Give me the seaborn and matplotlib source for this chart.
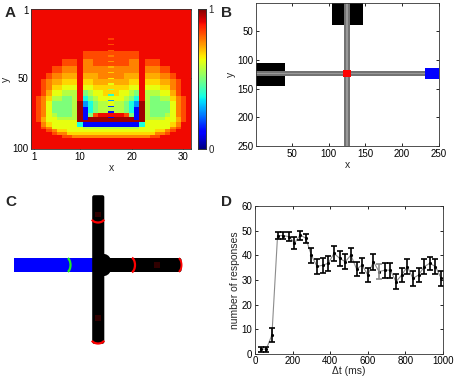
import numpy as np
import seaborn as sns
import matplotlib.pyplot as plt
from matplotlib.patches import Rectangle, Arc, Ellipse, FancyBboxPatch

# ---- panel A: heatmap, left half (columns 1-16) read band by band, mirrored ----
LEVELS = {'R': 0.90, 'D': 0.97, 'r': 0.83, 'o': 0.77, 'O': 0.73, 'y': 0.68,
          'Y': 0.63, 'l': 0.57, 'g': 0.50, 'c': 0.38, 'b': 0.27, 'B': 0.13}
BAND_ROWS = [24, 6, 6, 5, 5, 4, 4, 4, 4, 4, 4, 4, 3, 2, 2, 3, 2, 2, 2, 2, 8]
BAND_COLORS = [
    "RRRRRRRRRRRRRRRR",
    "RRRRRRRRRRRRRRRR",
    "RRRRRRRRRRrrrrrr",
    "RRRRRRrrrRoorrrr",
    "RRRRrroooRoooooo",
    "RRRrooOOOROOOooo",
    "RRroOOyyyRyyOOOO",
    "RRroyyYYYRYYyyyy",
    "RRrOYYlllRglYYyy",
    "RroyllgglRcglYYY",
    "RroYgggglDbcgllY",
    "RroYgggglDBcglll",
    "RroYlggglDBgrRRR",
    "RrOYYllllDBDDDDD",
    "RrOYYYYYYDDDDDDD",
    "RRoyYYYYYcBBBBBB",
    "RRroYYYYYYllllll",
    "RRRroyyYYYYYYYYY",
    "RRRRrooyyyyyyyyy",
    "RRRRRRrroooooooo",
    "RRRRRRRRRRRRRRRR",
]
DASH_ROWS = [22, 26, 30, 34, 38, 42, 46, 50, 54, 58, 62, 66, 70, 74, 78]
DASH_VALUES = [0.84, 0.83, 0.81, 0.78, 0.75, 0.72, 0.69, 0.66, 0.63, 0.55,
               0.40, 0.28, 0.18, 0.14, 0.10]

# ---- panel B: map (x0, y0, width, height) ----
WALLS = [(105, 0.5, 41, 39), (0.5, 105, 40, 40)]
ROAD_V = (121, 0.5, 8, 250)
ROAD_H = (0.5, 119, 250, 9)
GOAL = (120, 118, 10, 11)
START = (231, 114, 20, 20)

# ---- panel D: responses vs delay ----
dt_ms = [30, 60, 90, 120, 150, 180, 210, 240, 270, 300, 330, 360, 390, 420, 450,
         480, 510, 540, 570, 600, 630, 660, 690, 720, 750, 780, 810, 840, 870,
         900, 930, 960, 990]
responses = [2, 2, 7.7, 48, 48, 47.6, 45, 48.2, 47, 40, 35.5, 36, 36.8, 40.8,
             38.8, 37.4, 40.1, 34.5, 36, 32, 37.4, 33.4, 34, 34, 29.3, 32, 35.4,
             30.7, 32, 35.4, 36.8, 35.4, 30.7]
resp_err = [1, 1, 2.7, 1.5, 1.5, 1.8, 2.5, 1.8, 1.8, 3, 3.2, 3, 3, 3, 3, 3, 3,
            3, 3, 3, 3.2, 3, 3, 3, 3, 3, 3, 3, 3, 3, 2.7, 3, 3]
gray_bars = [660]

sns.set_theme(style='white')
plt.rcParams['font.family'] = ['Liberation Sans', 'DejaVu Sans']

W, H = 454, 376
fig = plt.figure(figsize=(W / 100, H / 100), dpi=100)


def box(l, t, r, b):
    return [l / W, 1 - b / H, (r - l) / W, (b - t) / H]


def style_ax(ax):
    ax.tick_params(direction='in', length=2.5, width=0.6, labelsize=7, pad=2,
                   top=True, right=True, bottom=True, left=True, colors='black')
    for s in ax.spines.values():
        s.set_visible(True)
        s.set_color('0.2')
        s.set_linewidth(0.6)


# panel A
axA = fig.add_axes(box(31, 9, 191, 149))
caxA = fig.add_axes(box(198, 9, 206, 149))
half = np.array([[LEVELS[ch] for ch in row] for row in BAND_COLORS])
full = np.hstack([half, half[:, -2::-1]])
grid = np.repeat(full, BAND_ROWS, axis=0)
for r, v in zip(DASH_ROWS, DASH_VALUES):
    grid[r - 1, 15] = v
sns.heatmap(grid, ax=axA, cmap='jet', vmin=0, vmax=1, cbar_ax=caxA,
            xticklabels=False, yticklabels=False)
axA.set_xticks([0.5, 9.5, 19.5, 29.5])
axA.set_xticklabels(['1', '10', '20', '30'])
axA.set_yticks([0.5, 49.5, 99.5])
axA.set_yticklabels(['1', '50', '100'], rotation=0)
axA.set_xlabel('x', fontsize=7.5, labelpad=1)
axA.set_ylabel('y', fontsize=7.5, labelpad=1)
style_ax(axA)
caxA.set_yticks([0, 1])
caxA.tick_params(labelsize=7, length=0, pad=2)
for s in caxA.spines.values():
    s.set_visible(True)
    s.set_color('0.2')
    s.set_linewidth(0.6)

# panel B
axB = fig.add_axes(box(256, 3, 439, 146))
for x0, y0, w, h in WALLS:
    axB.add_patch(Rectangle((x0, y0), w, h, color='black', lw=0))
for x0, y0, w, h in (ROAD_V, ROAD_H):
    axB.add_patch(Rectangle((x0, y0), w, h, color='0.45', lw=0))
axB.add_patch(Rectangle((ROAD_V[0] + 3, ROAD_V[1]), 2, ROAD_V[3], color='0.6', lw=0))
axB.add_patch(Rectangle((ROAD_H[0], ROAD_H[1] + 3.5), ROAD_H[2], 2, color='0.6', lw=0))
axB.add_patch(Rectangle(GOAL[:2], GOAL[2], GOAL[3], color='red', lw=0))
axB.add_patch(Rectangle(START[:2], START[2], START[3], color='#0000ff', lw=0))
axB.set_xlim(0.5, 250.5)
axB.set_ylim(250.5, 0.5)
axB.set_xticks([50, 100, 150, 200, 250])
axB.set_yticks([50, 100, 150, 200, 250])
axB.set_xlabel('x', fontsize=7.5, labelpad=1)
axB.set_ylabel('y', fontsize=7.5, labelpad=1)
style_ax(axB)

# panel C (drawn in pixel space of its region)
axC = fig.add_axes(box(0, 190, 230, 376))
axC.set_xlim(0, 230)
axC.set_ylim(376, 190)
axC.axis('off')
axC.add_patch(Rectangle((14, 258), 79, 14, color='#0000ff', lw=0))
axC.add_patch(FancyBboxPatch((93, 196), 10.5, 147, boxstyle='round,pad=0.8,rounding_size=2',
                             color='black', lw=0))
axC.add_patch(FancyBboxPatch((104, 258.5), 77, 13, boxstyle='round,pad=0.5,rounding_size=2',
                             color='black', lw=0))
axC.add_patch(Ellipse((104, 265), 16, 22, color='black', lw=0))
for x, y, w, h in [(95, 212, 6, 5), (154, 262, 6, 6), (95, 315, 6, 6)]:
    axC.add_patch(Rectangle((x, y), w, h, color='#300000', lw=0))
axC.add_patch(Arc((66, 265), 9, 15, theta1=-75, theta2=75, color='#22ee22', lw=1.6))
axC.add_patch(Arc((130, 265), 10, 16, theta1=-75, theta2=75, color='red', lw=1.6))
axC.add_patch(Arc((177, 265), 9, 15, theta1=-75, theta2=75, color='red', lw=1.4))
axC.add_patch(Arc((98, 218), 13, 9, theta1=15, theta2=165, color='red', lw=1.6))
axC.add_patch(Arc((98, 339), 13, 9, theta1=15, theta2=165, color='red', lw=1.6))

# panel D
axD = fig.add_axes(box(255, 206, 443, 354))
sns.lineplot(x=dt_ms, y=responses, ax=axD, color='0.55', linewidth=0.8,
             marker='.', markersize=3, markeredgecolor='black',
             markerfacecolor='black', errorbar=None)
bar_cols = ['0.55' if t in gray_bars else 'black' for t in dt_ms]
for t, v, e, c in zip(dt_ms, responses, resp_err, bar_cols):
    axD.errorbar(t, v, yerr=e, fmt='none', ecolor=c, elinewidth=1.2,
                 capsize=2.2, capthick=1.2)
axD.set_xlim(0, 1000)
axD.set_ylim(0, 60)
axD.set_xticks([0, 200, 400, 600, 800, 1000])
axD.set_yticks([0, 10, 20, 30, 40, 50, 60])
axD.set_xlabel('\u0394t (ms)', fontsize=7.5, labelpad=0)
axD.set_ylabel('number of responses', fontsize=7.5, labelpad=1)
style_ax(axD)
axD.tick_params(axis='x', pad=1.5)

for lab, x, y in [('A', 5, 17), ('B', 221, 17), ('C', 5, 206), ('D', 221, 206)]:
    fig.text(x / W, 1 - y / H, lab, fontsize=11, fontweight='bold', va='baseline')

fig.savefig('out.png', dpi=100)
